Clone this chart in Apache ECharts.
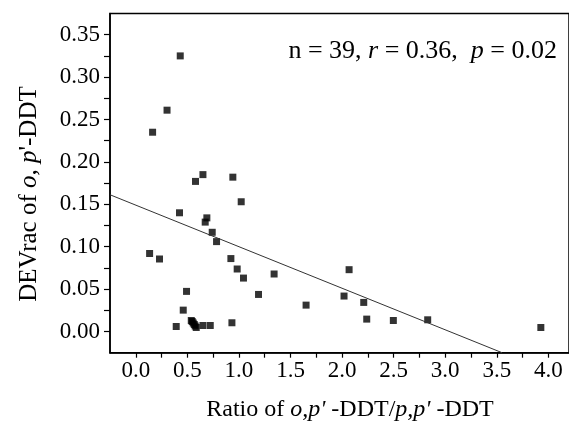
<!DOCTYPE html>
<html>
<head>
<meta charset="utf-8">
<script src="https://cdn.jsdelivr.net/npm/echarts@6/dist/echarts.min.js"></script>
<style>html,body{margin:0;padding:0;background:#fff;}#c{width:569px;height:425px;}</style>
</head>
<body>
<div id="c"></div>
<script>
const ratio = [0.431,0.303,0.163,0.579,0.651,0.941,1.022,0.424,0.689,0.673,0.741,0.783,0.134,0.230,0.922,0.983,1.044,0.492,1.190,0.460,0.392,
  0.538,0.547,0.557,0.567,0.576,0.586,
  0.651,0.722,0.932,
  1.341,1.651,2.068,2.019,2.210,2.239,2.497,2.830,3.927];
const devrac = [0.325,0.261,0.235,0.177,0.185,0.182,0.153,0.140,0.134,0.129,0.117,0.106,0.092,0.0855,0.086,0.0737,0.063,0.0473,0.0437,0.0252,0.0059,
  0.0130,0.0118,0.0100,0.0083,0.0065,0.0047,
  0.0071,0.0071,0.0103,
  0.0678,0.0311,0.0729,0.0418,0.0343,0.0146,0.0130,0.0138,0.0047];
const fitIntercept = 0.149;
const fitSlope = -0.049;
const xTicks = [0, 0.5, 1.0, 1.5, 2.0, 2.5, 3.0, 3.5, 4.0];
const xMinor = [0.25, 0.75, 1.25, 1.75, 2.25, 2.75, 3.25, 3.75];
const yTicks = [0, 0.05, 0.10, 0.15, 0.20, 0.25, 0.30, 0.35];
const yMinor = [0.025, 0.075, 0.125, 0.175, 0.225, 0.275, 0.325];
const xMin = -0.25, xMax = 4.2, yMin = -0.025, yMax = 0.375;

const points = ratio.map((r, i) => [r, devrac[i]]);
const xEnd = (yMin - fitIntercept) / fitSlope;
const fitLine = [[xMin, fitIntercept + fitSlope * xMin], [xEnd, yMin]];
const xAllTicks = xTicks.concat(xMinor).sort((a, b) => a - b);
const yAllTicks = yTicks.concat(yMinor).sort((a, b) => a - b);

const FONT = '"Liberation Serif", "Times New Roman", serif';
const FS = 23;
function rich(size) {
  return {
    a: { fontFamily: FONT, fontSize: size, fill: '#000', color: '#000' },
    i: { fontFamily: FONT, fontSize: size, fontStyle: 'italic', fill: '#000', color: '#000' }
  };
}
const chart = echarts.init(document.getElementById('c'));
chart.setOption({
  animation: false,
  backgroundColor: '#fff',
  grid: { left: 110, right: 0, top: 13.5, bottom: 72.3, show: true, borderColor: '#000', borderWidth: 1.5, backgroundColor: 'transparent' },
  xAxis: [{
    type: 'value', min: xMin, max: xMax,
    axisLine: { show: true, onZero: false, lineStyle: { color: '#000', width: 1.5 } },
    axisTick: { show: true, customValues: xAllTicks, length: 5, lineStyle: { color: '#000', width: 1.2 } },
    axisLabel: { customValues: xTicks, formatter: v => v.toFixed(1), color: '#000', fontFamily: FONT, fontSize: FS, margin: 7 },
    splitLine: { show: false }
  }],
  yAxis: [{
    type: 'value', min: yMin, max: yMax,
    axisLine: { show: true, onZero: false, lineStyle: { color: '#000', width: 1.5 } },
    axisTick: { show: true, customValues: yAllTicks, length: 6, lineStyle: { color: '#000', width: 1.2 } },
    axisLabel: { customValues: yTicks, formatter: v => v.toFixed(2), color: '#000', fontFamily: FONT, fontSize: FS, margin: 10 },
    splitLine: { show: false }
  }],
  series: [{
    type: 'scatter', data: points,
    symbol: 'rect', symbolSize: 7, itemStyle: { color: '#000' },
    markLine: {
      silent: true, symbol: ['none', 'none'], animation: false,
      label: { show: false },
      lineStyle: { color: '#333', width: 1, type: 'solid' },
      emphasis: { disabled: true },
      data: [[{ coord: fitLine[0] }, { coord: fitLine[1] }]]
    }
  }],
  graphic: [{
    type: 'text', x: 557, y: 51,
    style: {
      text: '{a|n = 39, }{i|r}{a| = 0.36,  }{i|p}{a| = 0.02}',
      align: 'right', verticalAlign: 'middle', rich: rich(26)
    }
  }, {
    type: 'text', x: 29, y: 194, rotation: Math.PI / 2,
    style: {
      text: '{a|DEVrac of }{i|o, p}{a|\'-DDT}',
      align: 'center', verticalAlign: 'middle', rich: rich(25)
    }
  }, {
    type: 'text', x: 350, y: 410,
    style: {
      text: '{a|Ratio of }{i|o,p\'}{a| -DDT/}{i|p,p\'}{a| -DDT}',
      align: 'center', verticalAlign: 'middle', rich: rich(24)
    }
  }]
});
</script>
</body>
</html>
